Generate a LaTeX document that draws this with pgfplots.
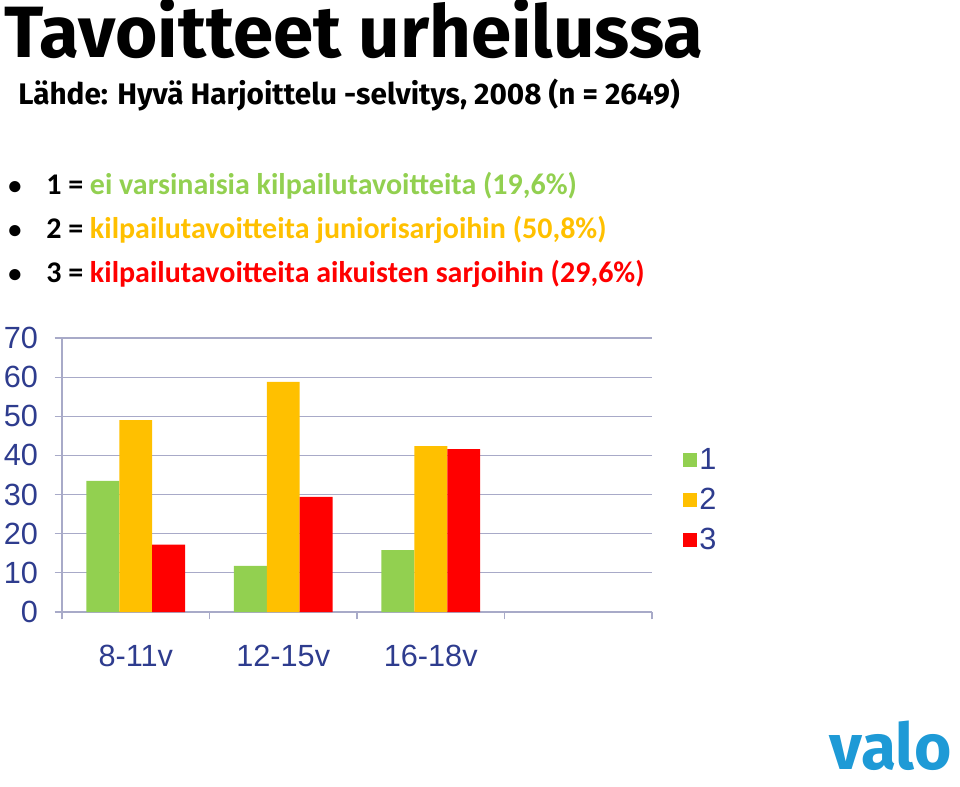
\documentclass[border=0pt]{standalone}
\usepackage{pgfplots}
\pgfplotsset{compat=1.18}
\usepackage{fontspec}
\setmainfont{Carlito}
\newfontfamily\subfont{Fira Sans}
\newfontfamily\arial{Liberation Sans}
\definecolor{cgreen}{HTML}{92D050}
\definecolor{corange}{HTML}{FFC000}
\definecolor{cred}{HTML}{FF0000}
\definecolor{tickblue}{HTML}{2E3C8E}
\definecolor{gridc}{HTML}{A8AAC8}
\definecolor{logoblue}{HTML}{1E9AD6}
\begin{document}
\begin{tikzpicture}
\useasboundingbox (0,0) rectangle (720pt,-590.25pt);
\node[anchor=base west, inner sep=0pt] at (3pt,-43pt) {\subfont\bfseries\fontsize{54.5}{60}\selectfont Tavoitteet urheilussa};
\node[anchor=base west, inner sep=0pt] at (13.5pt,-78.75pt) {\subfont\bfseries\fontsize{22.3}{26}\selectfont Lähde: Hyvä Harjoittelu -selvitys, 2008 (n = 2649)};
\node[anchor=base west, inner sep=0pt] at (6pt,-146.25pt) {\bfseries\fontsize{19.8}{24}\selectfont •};
\node[anchor=base west, inner sep=0pt] at (6pt,-179.25pt) {\bfseries\fontsize{19.8}{24}\selectfont •};
\node[anchor=base west, inner sep=0pt] at (6pt,-212.25pt) {\bfseries\fontsize{19.8}{24}\selectfont •};
\node[anchor=base west, inner sep=0pt] at (34.5pt,-146.25pt) {\bfseries\fontsize{22.5}{26}\selectfont 1 = \textcolor{cgreen}{ei varsinaisia kilpailutavoitteita (19,6\%)}};
\node[anchor=base west, inner sep=0pt] at (34.5pt,-179.25pt) {\bfseries\fontsize{22.5}{26}\selectfont 2 = \textcolor{corange}{kilpailutavoitteita juniorisarjoihin (50,8\%)}};
\node[anchor=base west, inner sep=0pt] at (34.5pt,-212.25pt) {\bfseries\fontsize{22.5}{26}\selectfont 3 = \textcolor{cred}{kilpailutavoitteita aikuisten sarjoihin (29,6\%)}};
\node[anchor=base east, inner sep=0pt] at (714pt,-577pt) {\subfont\bfseries\fontsize{48}{50}\selectfont\color{logoblue} valo};
\begin{axis}[
  at={(46.5pt,-459pt)}, anchor=south west,
  scale only axis, width=442.5pt, height=205.5pt,
  xmin=-0.5, xmax=3.5, ymin=0, ymax=70,
  ytick={0,10,...,70},
  xtick={-0.5,0.5,1.5,2.5,3.5}, xticklabels={},
  extra x ticks={0,1,2}, extra x tick labels={8-11v,12-15v,16-18v},
  extra x tick style={major tick length=0pt, xticklabel style={yshift=-21pt}},
  axis x line*=bottom, axis y line*=left,
  axis line style={gridc, line width=0.9pt},
  ymajorgrids, grid style={gridc, line width=0.9pt},
  tick style={gridc, line width=0.9pt},
  tick align=outside, major tick length=5.5pt,
  /pgf/number format/assume math mode=true,
  ticklabel style={font=\arial\fontsize{23}{27}\selectfont, text=tickblue},
  yticklabel style={xshift=-9pt},
  legend style={at={(1.045,0.41)}, anchor=west, draw=none, fill=none,
    font=\arial\fontsize{23}{27}\selectfont, text=tickblue, row sep=8.5pt},
  legend cell align=left,
  legend image code/.code={\fill[#1] (0pt,-5.25pt) rectangle (10.5pt,5.25pt);},
]
\addplot[ybar, bar width=0.2237, bar shift=-0.2237, fill=cgreen, draw=none] coordinates {(0,33.5) (1,11.8) (2,15.8)};
\addplot[ybar, bar width=0.2237, bar shift=0, fill=corange, draw=none] coordinates {(0,49.0) (1,58.8) (2,42.4)};
\addplot[ybar, bar width=0.2237, bar shift=0.2237, fill=cred, draw=none] coordinates {(0,17.2) (1,29.4) (2,41.6)};
\legend{1,2,3}
\end{axis}
\end{tikzpicture}
\end{document}
